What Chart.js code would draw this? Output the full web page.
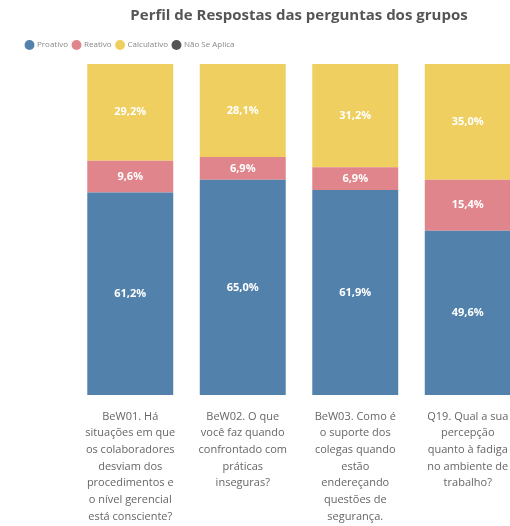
<!DOCTYPE html>
<html>
<head>
<meta charset="utf-8">
<script src="https://cdn.jsdelivr.net/npm/chart.js@4"></script>
<style>
  html, body { margin: 0; padding: 0; background: #fff; overflow: hidden; }
</style>
</head>
<body>
<canvas id="grafico" width="524" height="526"></canvas>
<script>
// perguntas (cada linha do rótulo em um item)
const perguntas = [
    ['BeW01. Há', 'situações em que', 'os colaboradores', 'desviam dos', 'procedimentos e', 'o nível gerencial', 'está consciente?'],
    ['BeW02. O que', 'você faz quando', 'confrontado com', 'práticas', 'inseguras?'],
    ['BeW03. Como é', 'o suporte dos', 'colegas quando', 'estão', 'endereçando', 'questões de', 'segurança.'],
    ['Q19. Qual a sua', 'percepção', 'quanto à fadiga', 'no ambiente de', 'trabalho?']
]

// percentuais por perfil
const proativo = [61.2, 65.0, 61.9, 49.6]
const reativo = [9.6, 6.9, 6.9, 15.4]
const calculativo = [29.2, 28.1, 31.2, 35.0]
const naoSeAplica = [0, 0, 0, 0]

const fonte = "'Open Sans', 'Noto Sans', sans-serif"

// escreve o valor no meio de cada segmento
const rotulosBarras = {
    id: 'rotulosBarras',
    afterDatasetsDraw(chart) {
        const ctx = chart.ctx
        ctx.save()
        ctx.fillStyle = '#fff'
        ctx.font = 'bold 11px ' + fonte
        ctx.textAlign = 'center'
        ctx.textBaseline = 'middle'
        chart.data.datasets.forEach((ds, i) => {
            const meta = chart.getDatasetMeta(i)
            meta.data.forEach((barra, j) => {
                const v = ds.data[j]
                if (!v) return
                const y = (barra.y + barra.base) / 2
                ctx.fillText(v.toFixed(1).replace('.', ',') + '%', barra.x, y)
            })
        })
        ctx.restore()
    }
}

// espaço vazio entre a legenda e as barras
const espacoLegenda = {
    id: 'espacoLegenda',
    beforeInit(chart) {
        Chart.layouts.addBox(chart, {
            position: 'top',
            weight: 0,
            fullSize: true,
            options: {},
            width: 0,
            height: 0,
            isHorizontal() { return true },
            update(w) { this.width = w; this.height = 5 },
            draw() {}
        })
    }
}

const ctx = document.getElementById('grafico').getContext('2d')

new Chart(ctx, {
    type: 'bar',
    data: {
        labels: perguntas,
        datasets: [
            { label: 'Proativo', data: proativo, backgroundColor: '#5282ac' },
            { label: 'Reativo', data: reativo, backgroundColor: '#e0858b' },
            { label: 'Calculativo', data: calculativo, backgroundColor: '#eecf5f' },
            { label: 'Não Se Aplica', data: naoSeAplica, backgroundColor: '#555555' }
        ]
    },
    options: {
        responsive: false,
        animation: false,
        devicePixelRatio: 1,
        barPercentage: 0.764,
        categoryPercentage: 1,
        layout: { padding: { top: 5, right: 0, bottom: 0, left: 21 } },
        plugins: {
            title: {
                display: true,
                fullSize: false,
                text: 'Perfil de Respostas das perguntas dos grupos',
                color: '#555',
                font: { family: fonte, size: 15, weight: 'bold' },
                padding: { top: 2, bottom: 11 }
            },
            legend: {
                display: true,
                align: 'start',
                labels: {
                    usePointStyle: true,
                    pointStyle: 'circle',
                    boxWidth: 7,
                    boxHeight: 7,
                    padding: 5,
                    color: '#888',
                    font: { family: fonte, size: 8 }
                }
            },
            tooltip: { enabled: false }
        },
        scales: {
            x: {
                stacked: true,
                grid: { display: false },
                border: { display: false },
                ticks: {
                    color: '#666',
                    font: { family: fonte, size: 11, lineHeight: 1.52 },
                    padding: 5,
                    maxRotation: 0,
                    autoSkip: false
                },
                afterFit(escala) { escala.height = 131 }
            },
            y: {
                stacked: true,
                min: 0,
                max: 100,
                grid: { display: false },
                border: { display: false },
                ticks: { display: false },
                afterFit(escala) { escala.width = 53 }
            }
        }
    },
    plugins: [rotulosBarras, espacoLegenda]
})
</script>
</body>
</html>
